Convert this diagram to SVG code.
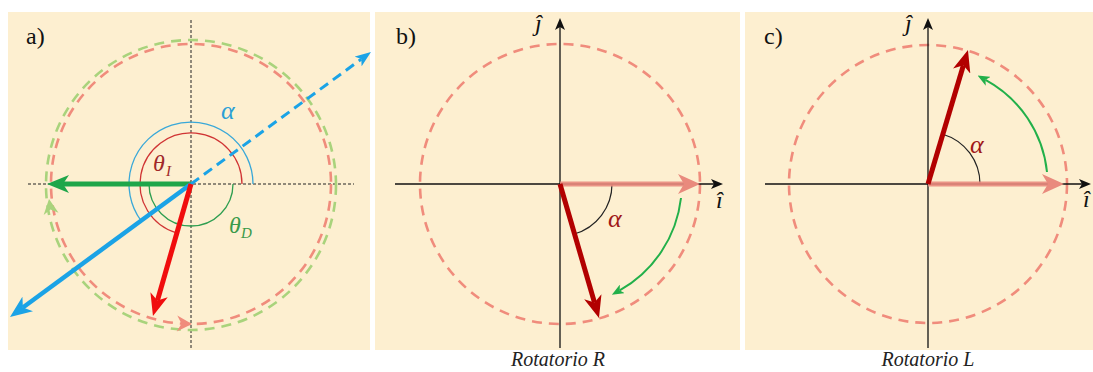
<svg xmlns="http://www.w3.org/2000/svg" width="1093" height="372" viewBox="0 0 1093 372">
<style>
.bg{fill:#fdefd0}
.circ{fill:none;stroke:#f08c7c;stroke-width:2.6;stroke-dasharray:10 7}
.gcirc{fill:none;stroke:#a9d37c;stroke-width:2.6;stroke-dasharray:10 7}
.dot{stroke:#222;stroke-width:1;stroke-dasharray:3 2;fill:none}
.axis{stroke:#111;stroke-width:1.3;fill:none}
text{font-family:"Liberation Serif","DejaVu Serif",serif}
.lbl{font-size:24px;fill:#111}
.m{font-style:italic}
.cap{font-style:italic;font-size:20px;fill:#222;text-anchor:middle}
</style>
<defs>
<marker id="hRed" markerUnits="userSpaceOnUse" markerWidth="22" markerHeight="18" viewBox="0 0 22 18" refX="6" refY="9" orient="auto"><path d="M0,0 L22,9 L0,18 L6,9 Z" fill="#f00d0d"/></marker>
<marker id="hDark" markerUnits="userSpaceOnUse" markerWidth="22" markerHeight="18" viewBox="0 0 22 18" refX="6" refY="9" orient="auto"><path d="M0,0 L22,9 L0,18 L6,9 Z" fill="#b20000"/></marker>
<marker id="hGreen" markerUnits="userSpaceOnUse" markerWidth="22" markerHeight="18" viewBox="0 0 22 18" refX="6" refY="9" orient="auto"><path d="M0,0 L22,9 L0,18 L6,9 Z" fill="#1fa64a"/></marker>
<marker id="hBlue" markerUnits="userSpaceOnUse" markerWidth="22" markerHeight="18" viewBox="0 0 22 18" refX="6" refY="9" orient="auto"><path d="M0,0 L22,9 L0,18 L6,9 Z" fill="#1ba3e6"/></marker>
<marker id="hBlueS" markerUnits="userSpaceOnUse" markerWidth="16" markerHeight="12" viewBox="0 0 16 12" refX="4" refY="6" orient="auto"><path d="M0,0 L16,6 L0,12 L4,6 Z" fill="#1ba3e6"/></marker>
<marker id="hPink" markerUnits="userSpaceOnUse" markerWidth="22" markerHeight="20" viewBox="0 0 22 20" refX="6" refY="10" orient="auto"><path d="M0,0 L22,10 L0,20 L6,10 Z" fill="#e98a7d"/></marker>
<marker id="hAxis" markerUnits="userSpaceOnUse" markerWidth="12" markerHeight="10" viewBox="0 0 12 10" refX="3" refY="5" orient="auto"><path d="M0,0 L12,5 L0,10 L3,5 Z" fill="#111"/></marker>
<marker id="hG2" markerUnits="userSpaceOnUse" markerWidth="12" markerHeight="10" viewBox="0 0 12 10" refX="3" refY="5" orient="auto"><path d="M0,0 L12,5 L0,10 L3,5 Z" fill="#22b04a"/></marker>
</defs>

<g id="panel-a">
<rect class="bg" x="8" y="12" width="362" height="338"/>
<line class="dot" x1="28" y1="184" x2="354" y2="184"/>
<line class="dot" x1="191" y1="20" x2="191" y2="348"/>
<circle class="gcirc" cx="191" cy="185" r="145"/>
<circle class="circ" cx="191" cy="184" r="140"/>
<path d="M253,184 A62,62 0 1 0 141,220.7" fill="none" stroke="#3aa8d8" stroke-width="1.3"/>
<path d="M242,184 A51,51 0 1 0 176.9,233" fill="none" stroke="#d03434" stroke-width="1.3"/>
<path d="M233,184 A42,42 0 0 1 149,184" fill="none" stroke="#2e9e50" stroke-width="1.3"/>
<path d="M0,0 L-15,-7.5 L-10.5,0 L-15,7.5 Z" fill="#a9d37c" transform="translate(49,199) rotate(-98)"/>
<path d="M0,0 L-15,-8 L-10.5,0 L-15,8 Z" fill="#f08c7c" transform="translate(192,324) rotate(2)"/>
<text class="lbl m" x="221" y="119" style="fill:#2a9fd6;font-size:26px">α</text>
<text class="lbl m" x="153" y="171" style="fill:#a0282a">θ</text>
<text class="lbl m" x="166" y="176" style="fill:#a0282a;font-size:15px">I</text>
<text class="lbl m" x="229" y="233" style="fill:#3a9a4a">θ</text>
<text class="lbl m" x="241" y="238" style="fill:#3a9a4a;font-size:15px">D</text>
<text class="lbl" x="26" y="44">a)</text>
</g>

<g id="panel-b">
<rect class="bg" x="375" y="12" width="365" height="338"/>
<circle class="circ" cx="560" cy="184" r="140"/>
<path d="M612,184 A52,52 0 0 1 574.2,234" fill="none" stroke="#222" stroke-width="1.2"/>
<text class="lbl m" x="608" y="227" style="fill:#a01818;font-size:26px">α</text>
<text class="lbl m" x="535" y="31">ĵ</text>
<text class="lbl m" x="716" y="208">î</text>
<text class="lbl" x="396" y="44">b)</text>
<text class="cap" x="558" y="366">Rotatorio R</text>
</g>

<g id="panel-c">
<rect class="bg" x="745" y="12" width="348" height="338"/>
<circle class="circ" cx="928" cy="184" r="139"/>
<path d="M980,184 A52,52 0 0 0 942.9,134.2" fill="none" stroke="#222" stroke-width="1.2"/>
<text class="lbl m" x="970" y="153" style="fill:#a01818;font-size:26px">α</text>
<text class="lbl m" x="905" y="31">ĵ</text>
<text class="lbl m" x="1083" y="207">î</text>
<text class="lbl" x="764" y="44">c)</text>
<text class="cap" x="928" y="366">Rotatorio L</text>
</g>

<g id="connectors">
<line x1="191" y1="184" x2="63" y2="184" stroke="#1fa64a" stroke-width="5" marker-end="url(#hGreen)"/>
<line x1="191" y1="184" x2="22.9" y2="307.5" stroke="#1ba3e6" stroke-width="4.5" marker-end="url(#hBlue)"/>
<line x1="191" y1="184" x2="361.3" y2="59.1" stroke="#1ba3e6" stroke-width="3" stroke-dasharray="10 6" marker-end="url(#hBlueS)"/>
<line x1="191" y1="184" x2="157.4" y2="300.6" stroke="#f00d0d" stroke-width="5" marker-end="url(#hRed)"/>

<line class="axis" x1="395" y1="184" x2="714" y2="184" marker-end="url(#hAxis)"/>
<line class="axis" x1="560" y1="348" x2="560" y2="27" marker-end="url(#hAxis)"/>
<line x1="560" y1="184" x2="684" y2="184" stroke="#e98a7d" stroke-width="5" stroke-opacity="0.9" marker-end="url(#hPink)"/>
<line x1="560" y1="184" x2="594.5" y2="302.6" stroke="#b20000" stroke-width="5" marker-end="url(#hDark)"/>
<path d="M681,198 A122,122 0 0 1 619.7,290.4" fill="none" stroke="#22b04a" stroke-width="2" marker-end="url(#hG2)"/>

<line class="axis" x1="765" y1="184" x2="1082" y2="184" marker-end="url(#hAxis)"/>
<line class="axis" x1="928" y1="348" x2="928" y2="27" marker-end="url(#hAxis)"/>
<line x1="928" y1="184" x2="1048" y2="184" stroke="#e98a7d" stroke-width="5" stroke-opacity="0.9" marker-end="url(#hPink)"/>
<line x1="928" y1="184" x2="963.4" y2="65.3" stroke="#b20000" stroke-width="5" marker-end="url(#hDark)"/>
<path d="M1047,172 A119,119 0 0 0 985.5,79.8" fill="none" stroke="#22b04a" stroke-width="2" marker-end="url(#hG2)"/>
</g>
</svg>
